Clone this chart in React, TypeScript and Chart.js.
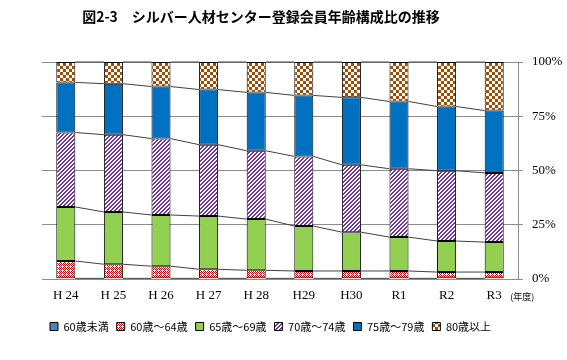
import React, { useEffect, useRef } from 'react';
import { Chart, registerables } from 'chart.js';

Chart.register(...registerables);

const titleText = '図2-3　シルバー人材センター登録会員年齢構成比の推移';
const unitLabel = '(年度)';
const categories = ['H 24', 'H 25', 'H 26', 'H 27', 'H 28', 'H29', 'H30', 'R1', 'R2', 'R3'];
const seriesNames = ['60歳未満', '60歳～64歳', '65歳～69歳', '70歳～74歳', '75歳～79歳', '80歳以上'];
const under60 = [0.3, 0.3, 0.3, 0.3, 0.3, 0.3, 0.3, 0.3, 0.3, 0.3];
const age60to64 = [8.0, 6.5, 5.6, 4.2, 3.7, 3.4, 3.4, 3.4, 2.9, 2.9];
const age65to69 = [24.9, 24.1, 23.6, 24.5, 23.6, 20.7, 17.9, 15.6, 14.3, 13.8];
const age70to74 = [34.3, 35.6, 35.2, 32.9, 31.5, 32.1, 31.0, 31.5, 32.4, 31.9];
const age75to79 = [23.1, 23.5, 24.0, 25.4, 26.9, 28.1, 31.1, 31.0, 29.6, 28.7];
const over80 = [9.4, 10.0, 11.3, 12.7, 14.0, 15.4, 16.3, 18.2, 20.5, 22.4];
const yTicks = [0, 25, 50, 75, 100];

function makePattern(size: number, bg: string, fg: string, test: (x: number, y: number) => boolean) {
  const c = document.createElement('canvas');
  c.width = size;
  c.height = size;
  const g = c.getContext('2d')!;
  g.fillStyle = bg;
  g.fillRect(0, 0, size, size);
  g.fillStyle = fg;
  for (let y = 0; y < size; y++) {
    for (let x = 0; x < size; x++) {
      if (test(x, y)) g.fillRect(x, y, 1, 1);
    }
  }
  const ctx = document.createElement('canvas').getContext('2d')!;
  return ctx.createPattern(c, 'repeat') as CanvasPattern;
}

const seriesLinesPlugin = {
  id: 'seriesLines',
  afterDatasetsDraw(chart: any) {
    const ctx = chart.ctx;
    ctx.save();
    ctx.strokeStyle = '#404040';
    ctx.lineWidth = 1;
    chart.data.datasets.forEach((_: any, d: number) => {
      const meta = chart.getDatasetMeta(d);
      const els = meta.data;
      for (let i = 0; i < els.length - 1; i++) {
        const a = els[i];
        const b = els[i + 1];
        ctx.beginPath();
        ctx.moveTo(a.x + a.width / 2, a.y);
        ctx.lineTo(b.x - b.width / 2, b.y);
        ctx.stroke();
      }
    });
    ctx.restore();
  },
};

const textPlugin = {
  id: 'extraText',
  afterDraw(chart: any) {
    const ctx = chart.ctx;
    ctx.save();
    ctx.fillStyle = '#000';
    ctx.textBaseline = 'middle';
    ctx.textAlign = 'center';
    ctx.font = 'bold 14px "Noto Sans CJK JP"';
    ctx.fillText(titleText, 261, 17);
    const xs = chart.scales.x;
    ctx.textAlign = 'left';
    ctx.font = '9px "Noto Sans CJK JP"';
    ctx.fillText(unitLabel, xs.getPixelForValue(categories.length - 1) + 16, 297);
    ctx.restore();
  },
};

export default function App() {
  const ref = useRef<HTMLCanvasElement | null>(null);

  useEffect(() => {
    if (!ref.current) return;
    const brown = makePattern(6, '#ffffff', '#9e4c0a', (x, y) => (Math.floor(x / 3) + Math.floor(y / 3)) % 2 === 0);
    const red = makePattern(4, '#ffffff', '#c00000', (x, y) => (x + y) % 2 === 0 && !(x === 2 && y === 2));
    const purple = makePattern(4, '#ffffff', '#7030a0', (x, y) => (x + y) % 4 < 2);
    const values = [under60, age60to64, age65to69, age70to74, age75to79, over80];
    const fills: any[] = ['#4f81bd', red, '#92d050', purple, '#0070c0', brown];

    const chart = new Chart(ref.current, {
      type: 'bar',
      data: {
        labels: categories,
        datasets: values.map((v, i) => ({
          label: seriesNames[i],
          data: v,
          backgroundColor: fills[i],
          borderColor: '#000000',
          borderWidth: 1,
          borderSkipped: false,
          categoryPercentage: 1,
          barPercentage: 0.4,
        })),
      },
      options: {
        responsive: false,
        animation: false,
        layout: { padding: { top: 62, left: 42, right: 0, bottom: 18 } },
        plugins: {
          title: { display: false },
          tooltip: { enabled: false },
          legend: {
            position: 'bottom',
            align: 'start',
            labels: {
              boxWidth: 8,
              boxHeight: 8,
              padding: 8,
              color: '#000',
              font: { family: '"Noto Sans CJK JP"', size: 11 },
            },
          },
        },
        scales: {
          x: {
            stacked: true,
            grid: { display: false, drawTicks: false },
            border: { display: false },
            ticks: {
              color: '#000',
              padding: 9,
              font: { family: '"Liberation Serif"', size: 13 },
            },
            afterFit(scale: any) {
              scale.height = 34;
            },
          },
          y: {
            stacked: true,
            position: 'right',
            min: 0,
            max: 100,
            afterBuildTicks(scale: any) {
              scale.ticks = yTicks.map((v) => ({ value: v }));
            },
            grid: { color: '#8c8c8c', tickLength: 5, drawTicks: true },
            border: { display: true, color: '#8c8c8c' },
            ticks: {
              color: '#000',
              padding: 9,
              font: { family: '"Liberation Serif"', size: 13 },
              callback: (v: any) => `${v}%`,
            },
            afterFit(scale: any) {
              scale.width = 49;
            },
          },
        },
      },
      plugins: [seriesLinesPlugin, textPlugin],
    });
    return () => chart.destroy();
  }, []);

  return (
    <div style={{ position: 'fixed', left: 0, top: 0, width: 567, height: 360, background: '#fff' }}>
      <canvas ref={ref} width={567} height={360} style={{ display: 'block' }} />
    </div>
  );
}
